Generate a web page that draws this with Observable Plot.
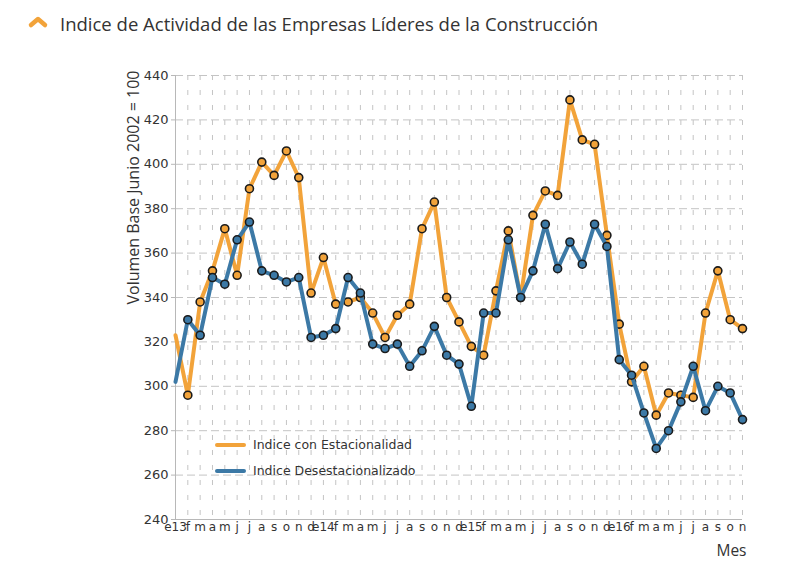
<!DOCTYPE html>
<html>
<head>
<meta charset="utf-8">
<script src="https://cdn.jsdelivr.net/npm/d3@7"></script>
<script src="https://cdn.jsdelivr.net/npm/@observablehq/plot@0.6"></script>
<style>
  body { margin: 0; background: #fff; width: 790px; height: 579px; overflow: hidden; position: relative; font-family: "DejaVu Sans", sans-serif; }
  #title { position: relative; height: 50px; }
  #title svg { position: absolute; left: 27px; top: 14px; }
  #title span { position: absolute; left: 60px; top: 11px; font-family: "Open Sans", sans-serif; font-size: 18.5px; color: #333; white-space: nowrap; }
  #chart { position: absolute; left: 0; top: 50px; }
  .leg { position: absolute; left: 215px; font-size: 12.5px; color: #333; white-space: nowrap; }
  .leg i { display: inline-block; width: 31px; height: 4px; border-radius: 2px; vertical-align: middle; margin-right: 7px; position: relative; top: -1px; }
</style>
</head>
<body>
<div id="title">
  <svg width="24" height="16"><path d="M4 11 L11 5 L18 11" stroke="#F2A33A" stroke-width="4.5" fill="none" stroke-linecap="round" stroke-linejoin="round"/></svg>
  <span>Indice de Actividad de las Empresas Líderes de la Construcción</span>
</div>
<div id="chart"></div>
<div class="leg" style="top:437px"><i style="background:#F2A33A"></i>Indice con Estacionalidad</div>
<div class="leg" style="top:463px"><i style="background:#3C79A6"></i>Indice Desestacionalizado</div>
<script>
// Month labels, January 2013 to November 2016
const meses = [
  "e13","f","m","a","m","j","j","a","s","o","n","d",
  "e14","f","m","a","m","j","j","a","s","o","n","d",
  "e15","f","m","a","m","j","j","a","s","o","n","d",
  "e16","f","m","a","m","j","j","a","s","o","n"
];

// Índice con estacionalidad
const conEstacionalidad = [
  323, 296, 338, 352, 371, 350, 389, 401, 395, 406, 394, 342,
  358, 337, 338, 340, 333, 322, 332, 337, 371, 383, 340, 329,
  318, 314, 343, 370, 340, 377, 388, 386, 429, 411, 409, 368,
  328, 302, 309, 287, 297, 296, 295, 333, 352, 330, 326
];

// Índice desestacionalizado
const desestacionalizado = [
  302, 330, 323, 349, 346, 366, 374, 352, 350, 347, 349, 322,
  323, 326, 349, 342, 319, 317, 319, 309, 316, 327, 314, 310,
  291, 333, 333, 366, 340, 352, 373, 353, 365, 355, 373, 363,
  312, 305, 288, 272, 280, 293, 309, 289, 300, 297, 285
];

const yTicks = [240, 260, 280, 300, 320, 340, 360, 380, 400, 420, 440];

const naranja = "#F2A33A";
const azul = "#3C79A6";

const serieA = conEstacionalidad.map((v, i) => ({ i, v }));
const serieB = desestacionalizado.map((v, i) => ({ i, v }));
const idx = d3.range(meses.length);

const chart = Plot.plot({
  width: 790,
  height: 529,
  marginLeft: 175,
  marginRight: 48,
  marginTop: 25,
  marginBottom: 60,
  x: { domain: [0, meses.length - 1] },
  y: { domain: [240, 440] },
  style: { fontFamily: "DejaVu Sans, sans-serif", fontSize: "12px", color: "#333", background: "transparent" },
  marks: [
    Plot.gridY(yTicks.slice(1), { stroke: "#c4c4c4", strokeOpacity: 1, strokeDasharray: "8,4" }),
    Plot.gridX(idx.slice(1), { stroke: "#c4c4c4", strokeOpacity: 1, strokeDasharray: "5,10" }),
    Plot.ruleX([0], { stroke: "#b8b8b8" }),
    Plot.ruleY([240], { stroke: "#b8b8b8" }),
    Plot.axisY(yTicks, { tickSize: 4, tickPadding: 3, label: null, stroke: "#b8b8b8", fontSize: 13 }),
    Plot.axisX(idx, { tickSize: 0, tickPadding: 3, label: null, tickFormat: (i) => meses[i], fontSize: 12 }),
    Plot.text(["Volumen Base Junio 2002 = 100"], {
      frameAnchor: "top-left", rotate: -90, textAnchor: "end", lineAnchor: "middle",
      dx: -42, dy: -5, fontFamily: "Open Sans, sans-serif", fontSize: 16, fill: "#333"
    }),
    Plot.text(["Mes"], {
      frameAnchor: "bottom-right", textAnchor: "end", lineAnchor: "middle",
      dx: 4, dy: 32, fontFamily: "Open Sans, sans-serif", fontSize: 15.5, fill: "#333"
    }),
    Plot.line(serieA, { x: "i", y: "v", stroke: naranja, strokeWidth: 4 }),
    Plot.dot(serieA.slice(1), { x: "i", y: "v", r: 4, fill: naranja, stroke: "#1b1b1b", strokeWidth: 1.6 }),
    Plot.line(serieB, { x: "i", y: "v", stroke: azul, strokeWidth: 4 }),
    Plot.dot(serieB.slice(1), { x: "i", y: "v", r: 4, fill: azul, stroke: "#1b1b1b", strokeWidth: 1.6 })
  ]
});

document.getElementById("chart").appendChild(chart);
</script>
</body>
</html>
